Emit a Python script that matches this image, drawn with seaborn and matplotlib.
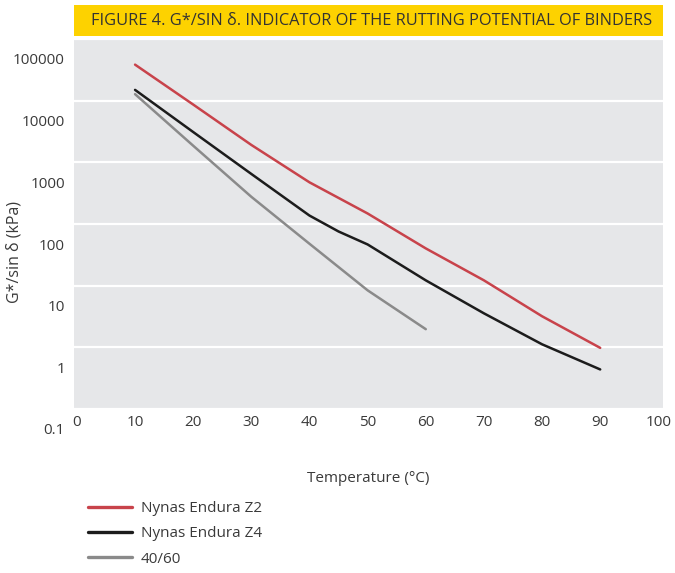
import pandas as pd
import seaborn as sns
import matplotlib.pyplot as plt
from matplotlib.patches import Rectangle
from matplotlib.transforms import ScaledTranslation

# Values (G*/sin delta in kPa vs temperature in C)
temp_z2 = [10, 20, 30, 40, 50, 60, 70, 80, 90]
gsin_z2 = [38400, 8650, 1915, 474, 148, 40.2, 12.2, 3.19, 0.98]

temp_z4 = [10, 20, 30, 40, 45, 50, 60, 70, 80, 90]
gsin_z4 = [14960, 3100, 648, 137, 75.6, 46.6, 12.2, 3.56, 1.12, 0.438]

temp_4060 = [10, 20, 30, 40, 50, 60]
gsin_4060 = [12760, 1860, 276, 47.8, 8.4, 1.97]

binders = ["Nynas Endura Z2", "Nynas Endura Z4", "40/60"]
colors = ["#c8434b", "#1c1c1c", "#8a8a8a"]
y_ticks = [0.1, 1, 10, 100, 1000, 10000, 100000]
y_ticklabels = ["0.1", "1", "10", "100", "1000", "10000", "100000"]
x_ticks = list(range(0, 101, 10))
title = "FIGURE 4. G*/SIN \u03b4. INDICATOR OF THE RUTTING POTENTIAL OF BINDERS"

# Build a long table for seaborn
df = pd.concat([
    pd.DataFrame({"temp": temp_z2, "value": gsin_z2, "binder": binders[0]}),
    pd.DataFrame({"temp": temp_z4, "value": gsin_z4, "binder": binders[1]}),
    pd.DataFrame({"temp": temp_4060, "value": gsin_4060, "binder": binders[2]}),
])

sns.set_style("darkgrid", {"axes.facecolor": "#e6e7e9", "grid.color": "white"})
plt.rcParams["font.family"] = ["Open Sans", "DejaVu Sans"]
text_color = "#3a3a3a"

fig = plt.figure(figsize=(6.75, 5.73), dpi=100)
ax = fig.add_axes([74 / 675, 1 - 409 / 573, 589 / 675, 370 / 573])

sns.lineplot(data=df, x="temp", y="value", hue="binder", palette=dict(zip(binders, colors)),
             linewidth=1.8, ax=ax)

ax.set_yscale("log")
ax.set_ylim(0.1, 100000)
ax.set_xlim(-0.5, 100.8)
ax.set_yticks(y_ticks)
ax.set_yticklabels(y_ticklabels)
ax.minorticks_off()
ax.set_xticks(x_ticks)
ax.xaxis.grid(False)
ax.yaxis.grid(True, linewidth=1.6)
for s in ax.spines.values():
    s.set_visible(False)
ax.tick_params(axis="both", length=0, labelsize=11, colors=text_color)
ax.tick_params(axis="y", pad=6.5)
ax.tick_params(axis="x", pad=4)

# labels in the source sit below their grid lines
shift = ScaledTranslation(0, -20 / 100, fig.dpi_scale_trans)
for lab in ax.get_yticklabels():
    lab.set_transform(lab.get_transform() + shift)

ax.set_xlabel("Temperature (\u00b0C)", fontsize=11, color=text_color, labelpad=30)
ax.set_ylabel("G*/sin \u03b4 (kPa)", fontsize=11.5, color=text_color)
ax.yaxis.set_label_coords(-0.088, 0.424)

# title band
fig.patches.append(Rectangle((74 / 675, 1 - 36 / 573), 589 / 675, 31 / 573,
                             transform=fig.transFigure, facecolor="#fdd200", edgecolor="none"))
fig.text(91 / 675, 1 - 21 / 573, title, fontsize=11.8, color="#333333", va="center", ha="left")

ax.legend_.remove()
handles, labels = ax.get_legend_handles_labels()
leg = fig.legend(handles, labels, loc="upper left", bbox_to_anchor=(88 / 675, 1 - 501 / 573),
                 frameon=False, fontsize=11, borderpad=0, borderaxespad=0,
                 handlelength=2.9, handletextpad=0.55, labelspacing=0.68)
for line in leg.get_lines():
    line.set_linewidth(2.4)
for t in leg.get_texts():
    t.set_color(text_color)

plt.savefig("out.png", dpi=100)
